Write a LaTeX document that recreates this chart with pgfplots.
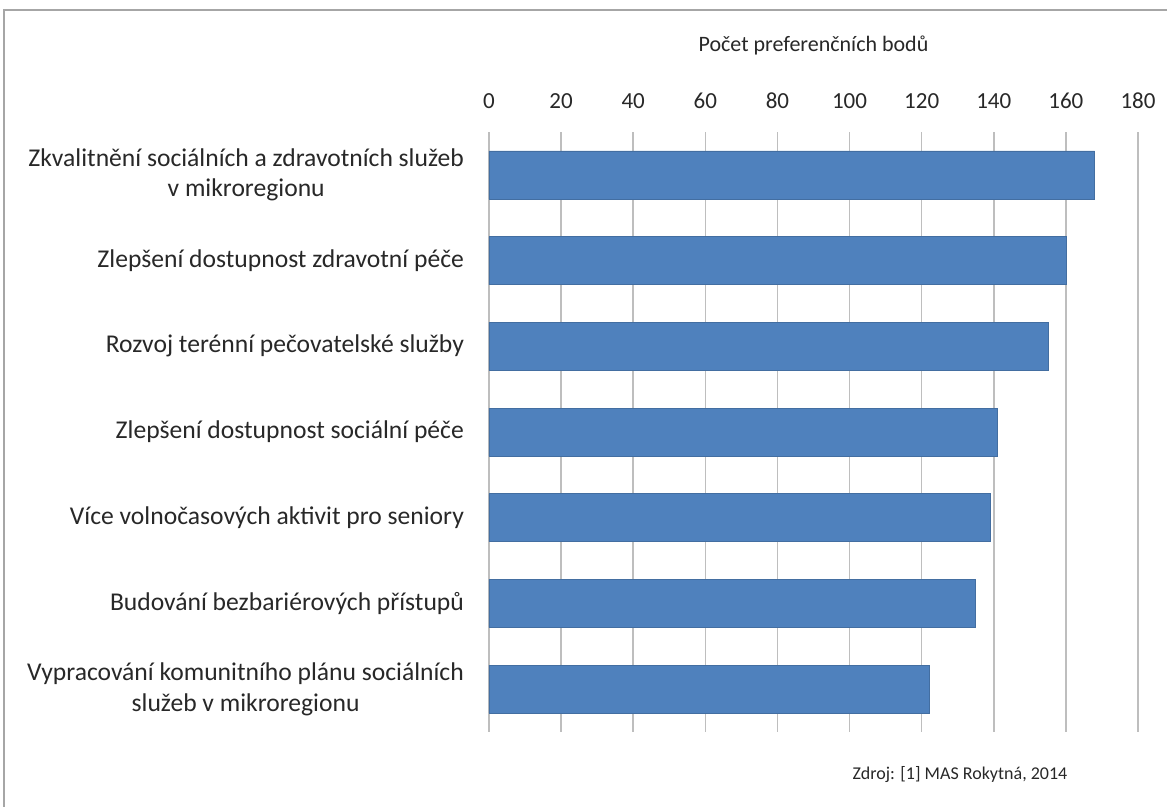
\documentclass[border=0pt]{standalone}
\usepackage{fontspec}
\setmainfont{Carlito}
\usepackage{pgfplots}
\pgfplotsset{compat=1.18}
\definecolor{barblue}{RGB}{79,129,189}
\definecolor{gridgray}{RGB}{190,190,190}
\definecolor{txt}{RGB}{40,40,40}

\begin{document}
\begin{tikzpicture}
\useasboundingbox (0,0) rectangle (583.5pt,403.5pt);
\fill[white] (0,0) rectangle (583.5pt,403.5pt);
\draw[gray!70, line width=0.9pt] (1.8pt,-2pt) -- (1.8pt,398.4pt) -- (586pt,398.4pt);
\begin{axis}[
    at={(244.5pt,37.5pt)}, anchor=south west,
    scale only axis,
    width=324.5pt, height=300pt,
    xbar, bar width=24pt,
    xmin=0, xmax=180,
    ymin=-0.5, ymax=6.5,
    y dir=reverse,
    xtick={0,20,...,180},
    xticklabel pos=top,
    xlabel={Počet preferenčních bodů},
    xlabel style={font=\fontsize{11}{13}\selectfont\color{txt}},
    x tick label style={font=\fontsize{11.5}{13}\selectfont\color{txt}},
    /pgf/number format/assume math mode=true,
    ytick={0,...,6},
    yticklabels={
      {Zkvalitnění sociálních a zdravotních služeb\\v mikroregionu},
      {Zlepšení dostupnost zdravotní péče},
      {Rozvoj terénní pečovatelské služby},
      {Zlepšení dostupnost sociální péče},
      {Více volnočasových aktivit pro seniory},
      {Budování bezbariérových přístupů},
      {Vypracování komunitního plánu sociálních\\služeb v mikroregionu}},
    y tick label style={font=\fontsize{12.8}{15.2}\selectfont\color{txt}, align=center},
    yticklabel style={xshift=-9pt},
    xmajorgrids,
    grid style={gridgray, line width=0.8pt},
    axis line style={draw=none},
    major tick length=0pt,
    xticklabel style={yshift=8pt},
    xlabel style={yshift=12pt},
  ]
  \addplot[fill=barblue, draw=barblue!85!black, line width=0.3pt] coordinates {
    (168,0) (160,1) (155,2) (141,3) (139,4) (135,5) (122,6)};
\end{axis}
\node[font=\fontsize{9}{11}\selectfont, text=txt] at (480pt,16pt) {Zdroj: [1] MAS Rokytná, 2014};
\end{tikzpicture}
\end{document}
